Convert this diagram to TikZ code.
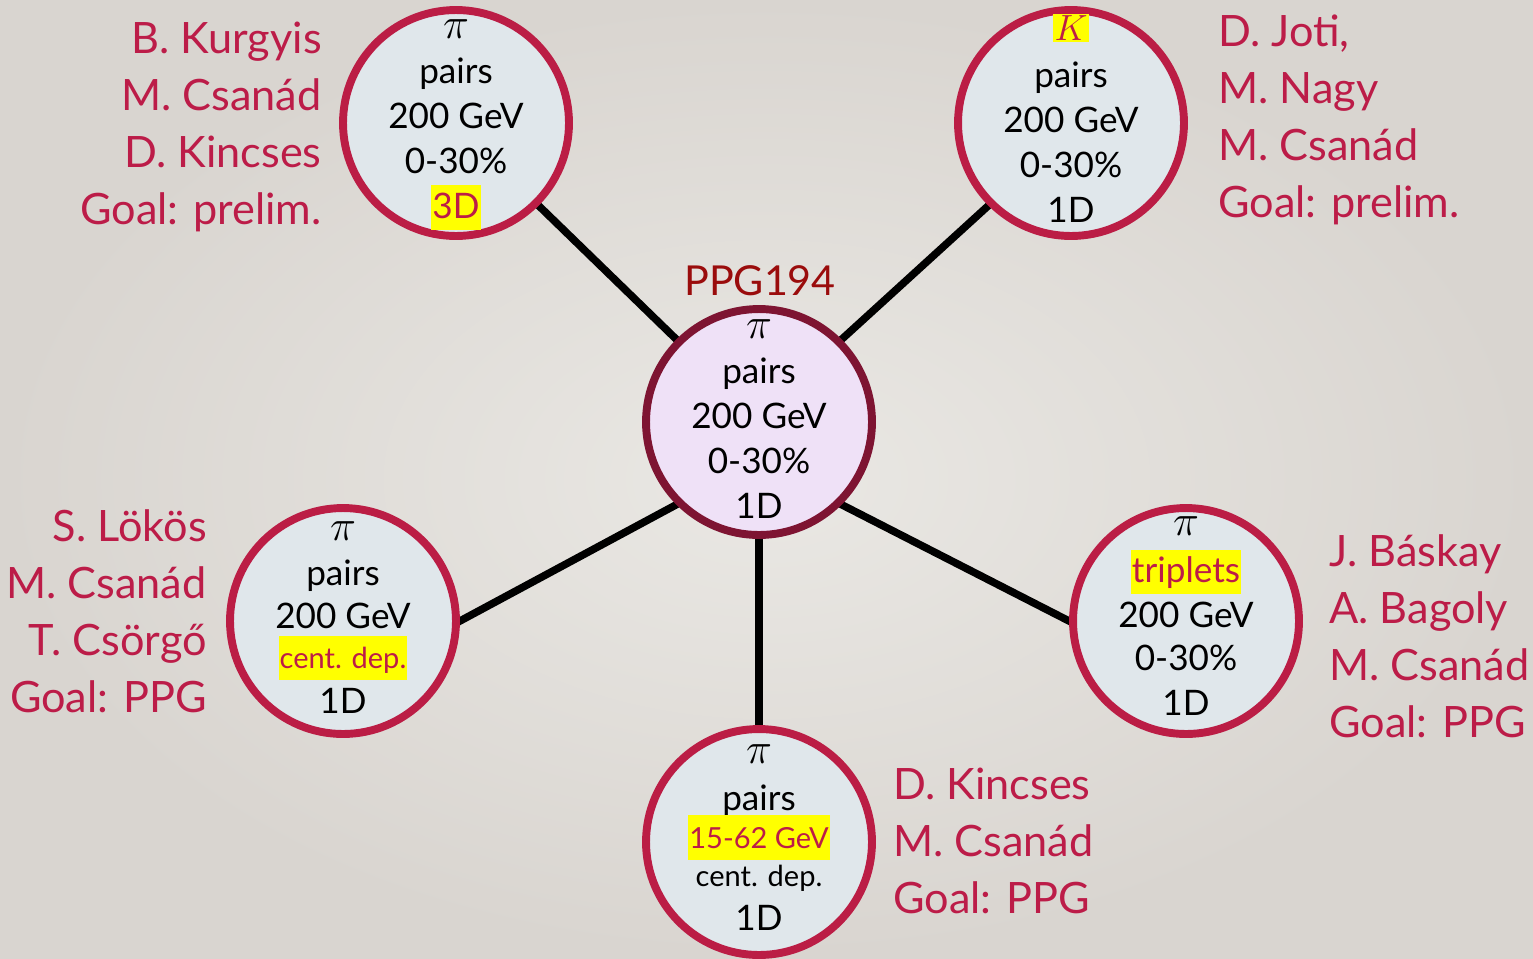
\documentclass[tikz,border=0pt]{standalone}
\usepackage{fontspec}
\setmainfont{Lato}
\definecolor{crim}{HTML}{BC1C48}
\definecolor{ringc}{HTML}{BB1D45}
\definecolor{hubring}{HTML}{7E1432}
\definecolor{hubfill}{HTML}{EFE1F7}
\definecolor{bubfill}{HTML}{E0E7EB}
\definecolor{ppgred}{HTML}{9A0C0C}
\definecolor{hlyellow}{HTML}{FFFF00}
\definecolor{bgin}{HTML}{EAE8E4}
\definecolor{bgout}{HTML}{D9D5D0}
\newcommand\hl[1]{\smash{\fboxsep=0.6pt\colorbox{hlyellow}{\color{crim}\rule[-0.3em]{0pt}{1.2em}#1}}}
\newcommand\smallline[1]{{\fontsize{16.5}{25.5}\selectfont #1}}
\newcommand\bigpi{{\fontsize{23}{25.5}\selectfont$\pi$}}
\pgfdeclarelayer{bglayer}
\pgfdeclarelayer{linelayer}
\pgfsetlayers{bglayer,linelayer,main}
\begin{document}
\begin{tikzpicture}[x=0.02cm,y=-0.02cm,
  bubble/.style={circle,draw=ringc,line width=4.5pt,fill=bubfill,minimum size=4.52cm,inner sep=0pt},
  hub/.style={bubble,draw=hubring,fill=hubfill},
  ctext/.style={align=center,anchor=base,inner sep=0pt,font=\fontsize{20}{25.5}\selectfont},
  lbl/.style={text=crim,inner sep=0pt,font=\fontsize{24.6}{32.4}\selectfont},
  conn/.style={line width=4.3pt,black,shorten <=-4pt,shorten >=-4pt},
  title/.style={text=ppgred,inner sep=0pt,anchor=base,font=\fontsize{23.5}{28}\selectfont}]
\begin{pgfonlayer}{bglayer}
\shade[inner color=bgin,outer color=bgout] (0,0) rectangle (1533,958);
\end{pgfonlayer}
\useasboundingbox (0,0) rectangle (1533,958);

% circles
\node[hub] (c) at (759,422) {};
\node[bubble] (tl) at (456,123) {};
\node[bubble] (tr) at (1071,123) {};
\node[bubble] (lb) at (343,621) {};
\node[bubble] (b) at (759,842) {};
\node[bubble] (r) at (1186,621) {};

% circle texts (anchored at the baseline of the last line)
\node[ctext] (ct) at (759,518) {\bigpi\\pairs\\200 GeV\\0-30\%\\1D};
\node[ctext] (tlt) at (456,218) {\bigpi\\pairs\\200 GeV\\0-30\%\\\hl{3D}};
\node[ctext] (trt) at (1071,222) {{\fboxsep=1pt\colorbox{hlyellow}{\fontsize{22}{25.5}\selectfont\color{crim}$K$}}\\[1.5pt]pairs\\200 GeV\\0-30\%\\1D};
\node[ctext] (lbt) at (343,713) {\bigpi\\pairs\\[-1pt]200 GeV\\[-2.7pt]\hl{\smallline{cent. dep.}}\\1D};
\node[ctext] (bt) at (759,930) {\bigpi\\[1.2pt]pairs\\[-4pt]\hl{\smallline{15-62 GeV}}\\[-3.4pt]\smallline{cent. dep.}\\[-1pt]1D};
\node[ctext] (rt) at (1186,715) {\bigpi\\[1.2pt]\hl{triplets}\\200 GeV\\[-1pt]0-30\%\\1D};

% title
\node[title] (ppg) at (760,295) {PPG194};

% connectors
\begin{pgfonlayer}{linelayer}
\draw[conn] (c.north west) -- (tl.south east);
\draw[conn] (c.north east) -- (tr.south west);
\draw[conn] (c.south west) -- (lb.east);
\draw[conn] (c.south east) -- (r.west);
\draw[conn] (c.south) -- (b.north);
\end{pgfonlayer}

% labels (anchored at the baseline of the last line)
\node[lbl,align=right,anchor=base east] (ltl) at (322,224) {B. Kurgyis\\M. Csanád\\D. Kincses\\Goal: prelim.};
\node[lbl,align=left,anchor=base west] (ltr) at (1218,217) {D. Joti,\\M. Nagy\\M. Csanád\\Goal: prelim.};
\node[lbl,align=right,anchor=base east] (llb) at (207,712) {S. Lökös\\M. Csanád\\T. Csörgő\\Goal: PPG};
\node[lbl,align=left,anchor=base west] (lr) at (1329,737) {J. Báskay\\A. Bagoly\\M. Csanád\\Goal: PPG};
\node[lbl,align=left,anchor=base west] (lbo) at (893,913) {D. Kincses\\M. Csanád\\Goal: PPG};
\end{tikzpicture}
\end{document}
